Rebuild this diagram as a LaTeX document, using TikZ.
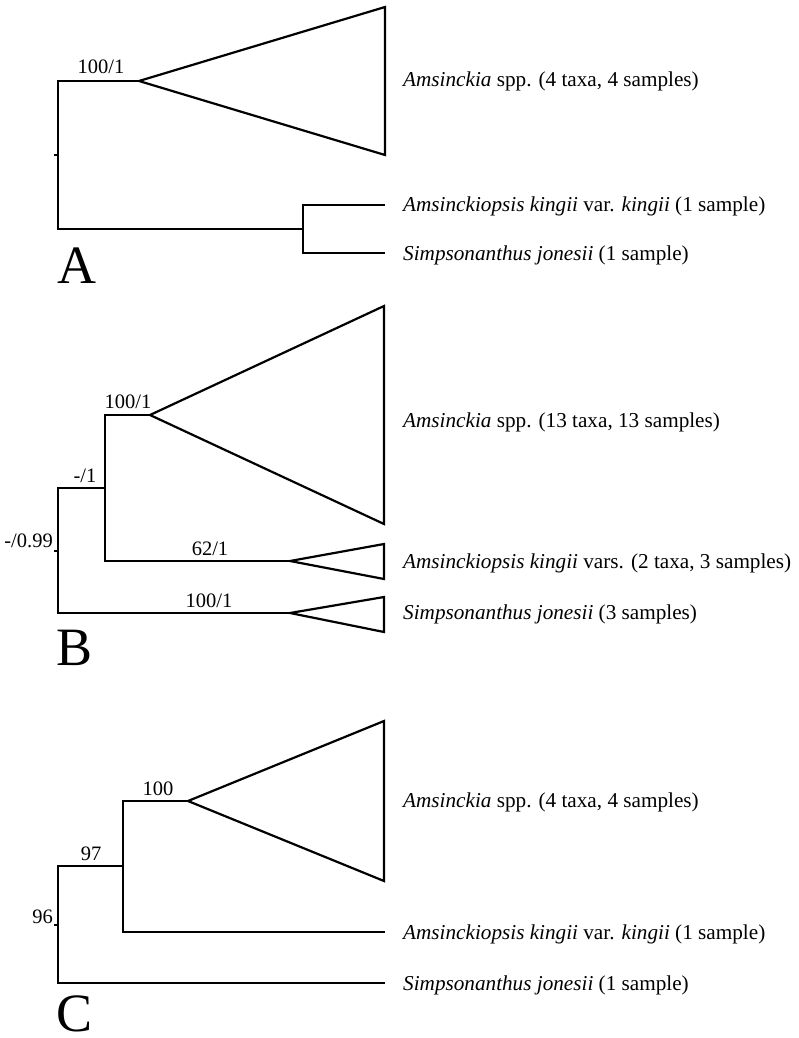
\documentclass[tikz,border=0pt]{standalone}
\usepackage{fontspec}
\setmainfont{Liberation Serif}
\begin{document}
\begin{tikzpicture}[x=1pt,y=-1pt,
  branch/.style={line width=2.2pt, line cap=rect, line join=miter},
  clade/.style={line width=2.2pt, line join=miter},
  taxon/.style={anchor=base west, inner sep=0pt, font=\fontsize{21.2}{25}\selectfont},
  support/.style={anchor=base, inner sep=0pt, font=\fontsize{20.5}{24}\selectfont},
  rootlab/.style={anchor=base east, inner sep=0pt, font=\fontsize{20.5}{24}\selectfont},
  panel/.style={anchor=base west, inner sep=0pt, font=\fontsize{54}{60}\selectfont}]
\useasboundingbox (0,0) rectangle (799,1038);

% ---------------- Panel A ----------------
\coordinate (Aroot) at (58,155);
\coordinate (Atop) at (58,81);
\coordinate (Abot) at (58,229);
\coordinate (Aapex) at (139,81);
\coordinate (Atri1) at (385,7);
\coordinate (Atri2) at (385,155);
\coordinate (Anode) at (303,229);
\coordinate (An1) at (303,205);
\coordinate (An2) at (303,253);
\coordinate (Atip1) at (384,205);
\coordinate (Atip2) at (384,253);
\draw[branch] (Aapex) -- (Atop) -- (Abot) -- (Anode);
\draw[branch] (An1) -- (An2);
\draw[branch] (An1) -- (Atip1);
\draw[branch] (An2) -- (Atip2);
\draw[clade] (Aapex) -- (Atri1) -- (Atri2) -- cycle;
\draw[line width=2.2pt] (Aroot) -- ++(-4,0);
\node[support] (Asup) at (101,74) {100/1};
\node[taxon] (At1) at (403,87) {\textit{Amsinckia} spp. (4 taxa, 4 samples)};
\node[taxon] (At2) at (403,211) {\textit{Amsinckiopsis kingii} var. \textit{kingii} (1 sample)};
\node[taxon] (At3) at (403,260) {\textit{Simpsonanthus jonesii} (1 sample)};
\node[panel] (LA) at (57,283) {A};

% ---------------- Panel B ----------------
\coordinate (Broot) at (58,551);
\coordinate (Btop) at (58,488);
\coordinate (Bbot) at (58,613);
\coordinate (Bn) at (105,488);
\coordinate (Bn1) at (105,415);
\coordinate (Bn2) at (105,561);
\coordinate (Bapex1) at (150,415);
\coordinate (Bapex2) at (290,561);
\coordinate (Bapex3) at (290,613);
\draw[branch] (Bn) -- (Btop) -- (Bbot) -- (Bapex3);
\draw[branch] (Bapex1) -- (Bn1) -- (Bn2) -- (Bapex2);
\draw[clade] (Bapex1) -- (384,306) -- (384,524) -- cycle;
\draw[clade] (Bapex2) -- (384,544) -- (384,579) -- cycle;
\draw[clade] (Bapex3) -- (384,597) -- (384,632) -- cycle;
\draw[line width=2.2pt] (Broot) -- ++(-4,0);
\node[rootlab] (Brl) at (53,547) {-/0.99};
\node[support] (Bs1) at (85,482) {-/1};
\node[support] (Bs2) at (128,408) {100/1};
\node[support] (Bs3) at (210,555) {62/1};
\node[support] (Bs4) at (209,607) {100/1};
\node[taxon] (Bt1) at (403,427) {\textit{Amsinckia} spp. (13 taxa, 13 samples)};
\node[taxon] (Bt2) at (403,568) {\textit{Amsinckiopsis kingii} vars. (2 taxa, 3 samples)};
\node[taxon] (Bt3) at (403,619) {\textit{Simpsonanthus jonesii} (3 samples)};
\node[panel] (LB) at (56,665) {B};

% ---------------- Panel C ----------------
\coordinate (Croot) at (58,925);
\coordinate (Ctop) at (58,866);
\coordinate (Cbot) at (58,983);
\coordinate (Cn) at (123,866);
\coordinate (Cn1) at (123,801);
\coordinate (Cn2) at (123,932);
\coordinate (Capex) at (188,801);
\coordinate (Ctip2) at (384,932);
\coordinate (Ctip3) at (384,983);
\draw[branch] (Cn) -- (Ctop) -- (Cbot) -- (Ctip3);
\draw[branch] (Capex) -- (Cn1) -- (Cn2) -- (Ctip2);
\draw[clade] (Capex) -- (384,721) -- (384,881) -- cycle;
\draw[line width=2.2pt] (Croot) -- ++(-4,0);
\node[rootlab] (Crl) at (53,923) {96};
\node[support] (Cs1) at (91,860) {97};
\node[support] (Cs2) at (158,795) {100};
\node[taxon] (Ct1) at (403,807) {\textit{Amsinckia} spp. (4 taxa, 4 samples)};
\node[taxon] (Ct2) at (403,939) {\textit{Amsinckiopsis kingii} var. \textit{kingii} (1 sample)};
\node[taxon] (Ct3) at (403,990) {\textit{Simpsonanthus jonesii} (1 sample)};
\node[panel] (LC) at (56,1031) {C};
\end{tikzpicture}
\end{document}
